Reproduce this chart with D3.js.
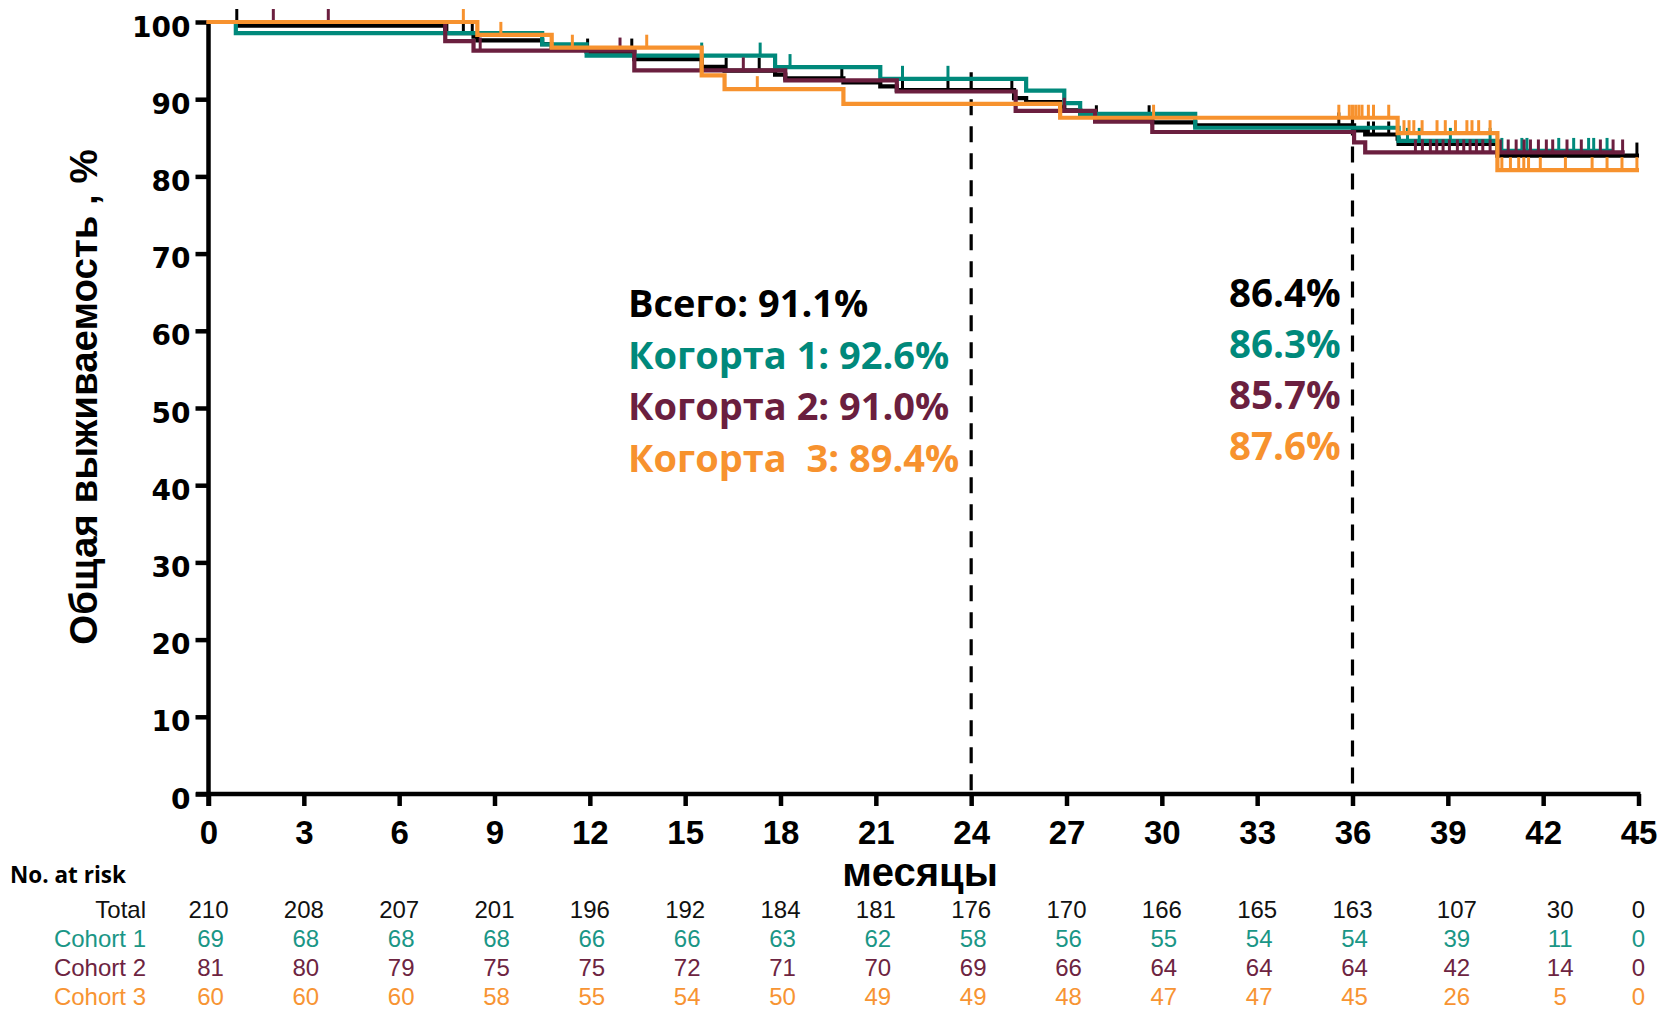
<!DOCTYPE html>
<html><head><meta charset="utf-8">
<script src="https://cdn.jsdelivr.net/npm/d3@7"></script>
<style>
html,body{margin:0;padding:0;background:#fff;}
svg{display:block;}
</style></head>
<body>
<svg id="chart" width="1658" height="1012"></svg>
<script>
// ---------------- DATA ----------------
const xTicks = [0,3,6,9,12,15,18,21,24,27,30,33,36,39,42,45];
const yTicks = [0,10,20,30,40,50,60,70,80,90,100];

// Kaplan-Meier steps [month, survival %]
const totalSteps = [[0,100],[0.9,99.52],[7.45,98.57],[8.34,98.09],[8.46,97.62],[10.5,97.14],[10.8,96.66],[11.9,96.17],[13.4,95.18],[15.52,94.18],[16.24,93.69],[17.83,93.19],[18.15,92.69],[19.98,92.18],[21.14,91.67],[21.66,91.17],[25.35,90.13],[25.73,89.61],[26.8,89.09],[26.93,88.57],[27.43,88.05],[27.9,87.53],[29.7,87.01],[31.05,86.6],[36.05,85.96],[36.4,85.43],[37.42,84.88],[37.45,84.2],[40.56,82.7],[44.95,82.7]];
const cohort1Steps = [[0,100],[0.86,98.55],[10.5,97.1],[11.9,95.65],[17.83,94.16],[21.14,92.64],[25.73,91.1],[26.93,89.5],[27.43,88.1],[31.05,86.3],[37.45,84.6],[40.56,83.3],[44.1,83.3]];
const cohort2Steps = [[0,100],[7.45,97.53],[8.34,96.3],[13.4,93.73],[18.15,92.43],[21.66,91.0],[25.4,88.5],[27.9,87.1],[29.7,85.75],[36.05,84.4],[36.4,83.1],[44.5,83.1]];
const cohort3Steps = [[0,100],[8.46,98.33],[10.8,96.67],[15.52,93.09],[16.24,91.3],[19.98,89.4],[26.8,87.6],[37.42,85.6],[40.56,80.8],[44.95,80.8]];

// censor marks (months)
const totalCensor = [0.89,7.5,8.02,8.3,11.93,13.32,16.29,17.33,19.93,21.84,23.27,25.28,27.94,29.6,35.57,36.0,36.5,36.66,37.14,44.95];
const cohort1Censor = [15.52,17.36,18.3,21.84,23.27,37.73,38.1,39.08,40.33,40.7,41.33,41.49,42.49,42.96,43.43,43.59,44.01];
const cohort2Censor = [2.04,3.77,8.55,12.95,16.83,26.93,37.98,38.2,38.45,38.65,38.85,39.05,39.3,39.5,39.7,39.9,40.1,40.33,40.65,40.9,41.15,41.4,41.6,41.85,42.1,42.3,42.75,43.2,43.8,44.2,44.5];
const cohort3Censor = [8.02,9.2,11.45,13.79,17.27,29.74,35.57,35.9,36.0,36.1,36.2,36.3,36.5,36.66,37.14,37.62,37.78,37.93,38.19,38.66,38.92,39.24,39.6,39.76,39.97,40.33,40.7,40.97,41.23,41.39,41.54,41.91,42.7,43.54,44.01,44.48,44.95];

const landmarkMonths = [24,36];

const leftLabels = ["Всего: 91.1%","Когорта 1: 92.6%","Когорта 2: 91.0%","Когорта  3: 89.4%"];
const rightLabels = ["86.4%","86.3%","85.7%","87.6%"];

const riskRowNames = ["Total","Cohort 1","Cohort 2","Cohort 3"];
const riskTotal = [210,208,207,201,196,192,184,181,176,170,166,165,163,107,30,0];
const riskC1 = [69,68,68,68,66,66,63,62,58,56,55,54,54,39,11,0];
const riskC2 = [81,80,79,75,75,72,71,70,69,66,64,64,64,42,14,0];
const riskC3 = [60,60,60,58,55,54,50,49,49,48,47,47,45,26,5,0];

const yTitle = "Общая выживаемость , %";
const xTitle = "месяцы";
// ---------------- STYLE ----------------
const C = {total:"#000000", c1:"#00897b", c2:"#6b1f3f", c3:"#f7922e"};
const CT = {total:"#111111", c1:"#1a9686", c2:"#6d2441", c3:"#f79433"};
const landmarkTopOffset = [18,6];

const svg = d3.select("#chart");
const x = d3.scaleLinear().domain([0,45]).range([208.5,1638.5]);
const y = d3.scaleLinear().domain([0,100]).range([794,22]);

// axes
const yAxis = d3.axisLeft(y).tickValues(yTicks).tickSize(12).tickFormat(d3.format("d"));
const gy = svg.append("g").attr("transform","translate(208.5,0)").call(yAxis);
gy.select(".domain").attr("stroke","#000").attr("stroke-width",4.5).attr("d","M0,20V806");
gy.selectAll(".tick line").attr("stroke","#000").attr("stroke-width",4.5).attr("x2",-13);
gy.selectAll(".tick text").attr("font-family","'DejaVu Sans', Verdana, sans-serif").attr("font-weight","bold")
  .attr("font-size",28).attr("fill","#000").attr("x",-18).attr("dy","0.5em");

const xAxis = d3.axisBottom(x).tickValues(xTicks).tickSize(12).tickFormat(d3.format("d"));
const gx = svg.append("g").attr("transform","translate(0,794)").call(xAxis);
gx.select(".domain").attr("stroke","#000").attr("stroke-width",4.5).attr("d","M196,0H1640.5");
gx.selectAll(".tick line").attr("stroke","#000").attr("stroke-width",4.5);
gx.selectAll(".tick text").attr("font-family","'Liberation Sans', Arial, sans-serif").attr("font-weight","bold")
  .attr("font-size",33).attr("fill","#000").attr("y",50).attr("dy",0);

// dashed landmark lines
const stepVal = (steps,t)=>{let v=steps[0][1];for(const s of steps){if(s[0]<=t)v=s[1];}return v;};
svg.append("g").selectAll("line").data(landmarkMonths).join("line")
  .attr("x1",d=>x(d)).attr("x2",d=>x(d))
  .attr("y1",(d,i)=>y(stepVal(totalSteps,d))-landmarkTopOffset[i]).attr("y2",y(0))
  .attr("stroke","#000").attr("stroke-width",3.2).attr("stroke-dasharray","16,11");

// curves
const series = [
  {steps:totalSteps, cens:totalCensor, col:C.total},
  {steps:cohort1Steps, cens:cohort1Censor, col:C.c1},
  {steps:cohort2Steps, cens:cohort2Censor, col:C.c2},
  {steps:cohort3Steps, cens:cohort3Censor, col:C.c3}
];
const line = d3.line().x(d=>x(d[0])).y(d=>y(d[1])).curve(d3.curveStepAfter);
series.forEach(s=>{
  const g = svg.append("g");
  g.append("path").datum(s.steps).attr("d",line).attr("fill","none")
    .attr("stroke",s.col).attr("stroke-width",4.2).attr("stroke-linejoin","miter").attr("stroke-linecap","square");
  g.selectAll("line").data(s.cens).join("line")
    .attr("x1",d=>x(d)).attr("x2",d=>x(d))
    .attr("y1",d=>y(stepVal(s.steps,d))).attr("y2",d=>y(stepVal(s.steps,d))-13)
    .attr("stroke",s.col).attr("stroke-width",3);
});

// annotations
const annCols = [C.total,C.c1,C.c2,C.c3];
svg.append("g").selectAll("text").data(leftLabels).join("text")
  .attr("x",628).attr("y",(d,i)=>317+i*51.5)
  .attr("fill",(d,i)=>annCols[i]).attr("font-family","'Open Sans', 'Noto Sans', sans-serif")
  .attr("font-weight","bold").attr("font-size",38).style("white-space","pre").text(d=>d);
svg.append("g").selectAll("text").data(rightLabels).join("text")
  .attr("x",1229).attr("y",(d,i)=>307+i*51)
  .attr("fill",(d,i)=>annCols[i]).attr("font-family","'Open Sans', 'Noto Sans', sans-serif")
  .attr("font-weight","bold").attr("font-size",38.5).text(d=>d);

// titles
svg.append("text").attr("transform","translate(97,397) rotate(-90)").attr("text-anchor","middle")
  .attr("font-family","'Liberation Sans', Arial, sans-serif").attr("font-weight","bold").attr("font-size",38.5)
  .attr("fill","#000").text(yTitle);
svg.append("text").attr("x",920).attr("y",886).attr("text-anchor","middle")
  .attr("font-family","'Liberation Sans', Arial, sans-serif").attr("font-weight","bold").attr("font-size",40)
  .attr("fill","#000").text(xTitle);

// risk table
svg.append("text").attr("x",10).attr("y",883).attr("font-family","'Open Sans', sans-serif")
  .attr("font-weight","bold").attr("font-size",22.5).attr("fill","#000").text("No. at risk");
const riskRows = [riskTotal,riskC1,riskC2,riskC3];
const rowCols = [CT.total,CT.c1,CT.c2,CT.c3];
const rowY = [918,947,976,1005];
const colNudge = {39:9,42:17};
riskRows.forEach((row,ri)=>{
  svg.append("text").attr("x",146).attr("y",rowY[ri]).attr("text-anchor","end")
    .attr("font-family","'Liberation Sans', Arial, sans-serif").attr("font-size",24).attr("fill",rowCols[ri]).text(riskRowNames[ri]);
  svg.append("g").selectAll("text").data(row).join("text")
    .attr("x",(d,i)=>x(xTicks[i]) + (colNudge[xTicks[i]]||0) + (ri>0 && d>=10 && xTicks[i]<39 ? 2 : 0))
    .attr("y",rowY[ri]).attr("text-anchor","middle")
    .attr("font-family","'Liberation Sans', Arial, sans-serif").attr("font-size",24).attr("fill",rowCols[ri]).text(d=>d);
});
</script>
</body></html>
